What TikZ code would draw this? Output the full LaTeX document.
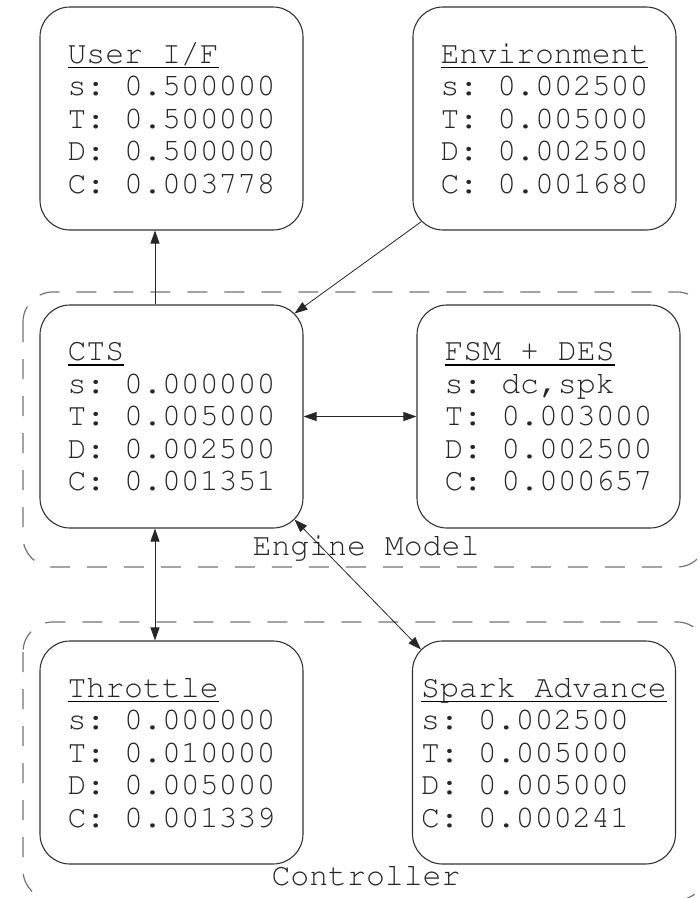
\documentclass[tikz,border=0pt]{standalone}
\usepackage[T1,TU]{fontenc}
\usetikzlibrary{arrows.meta}

% Courier for all the box texts
\newcommand\courfont{\fontencoding{T1}\fontfamily{pcr}\fontseries{m}\fontshape{n}\fontsize{31.5}{32.5}\selectfont\frenchspacing}
\newcommand\headtxt[1]{\setbox0\hbox{#1}\rlap{\color{black}\rule[-5pt]{\wd0}{1.8pt}}\box0}

\tikzset{
  blk/.style={draw=black!80, line width=1.1pt, rounded corners=30pt,
    minimum width=263pt, minimum height=223pt, inner sep=0pt,
    align=left, text=black!85, font=\courfont},
  grp/.style={draw=black!55, line width=1.2pt, rounded corners=30pt,
    dash pattern=on 20pt off 17pt},
  grplabel/.style={anchor=base, inner sep=0pt, text=black!85, font=\courfont},
  lnk/.style={draw=black!85, line width=0.8pt},
}

\begin{document}
\begin{tikzpicture}[x=1pt,y=-1pt,>={Triangle[length=13pt,width=9pt]}]
    \useasboundingbox (0,0) rectangle (700,898);
    % subsystems
    \draw[grp] (23,292) rectangle (707,567);
    \draw[grp] (23,622) rectangle (707,900);
    \node[grplabel] (engl) at (366,555) {Engine Model};
    \node[grplabel] (ctrll) at (366,885) {Controller};

    \node[blk] (uif) at (171.5,118.5) {\headtxt{User I/F}\\s: 0.500000\\T: 0.500000\\D: 0.500000\\C: 0.003778};
    \node[blk] (env) at (544.5,118.5) {\headtxt{Environment}\\s: 0.002500\\T: 0.005000\\D: 0.002500\\C: 0.001680};
    \node[blk] (cts) at (171.5,416.5) {\headtxt{CTS}\\s: 0.000000\\T: 0.005000\\D: 0.002500\\C: 0.001351};
    \node[blk] (fsm) at (548.5,416.5) {\headtxt{FSM + DES}\\s: dc,spk\\T: 0.003000\\D: 0.002500\\C: 0.000657};
    \node[blk] (thr) at (171.5,752.5) {\headtxt{Throttle}\\s: 0.000000\\T: 0.010000\\D: 0.005000\\C: 0.001339};
    \node[blk] (spk) at (544,752.5) {\headtxt{Spark Advance}\\s: 0.002500\\T: 0.005000\\D: 0.005000\\C: 0.000241};

    \draw[lnk,->] ([shift={(-16.5,0)}]cts.north) -- ([shift={(-16.5,0)}]uif.south);
    \draw[lnk,->] ([shift={(9,-9)}]env.south west) -- ([shift={(-9,9)}]cts.north east);
    \draw[lnk,<->] (cts.east) -- (fsm.west);
    \draw[lnk,<->] ([shift={(-16.5,0)}]cts.south) -- ([shift={(-16.5,0)}]thr.north);
    \draw[lnk,<->] ([shift={(-9,-9)}]cts.south east) -- ([shift={(9,9)}]spk.north west);
\end{tikzpicture}
\end{document}
